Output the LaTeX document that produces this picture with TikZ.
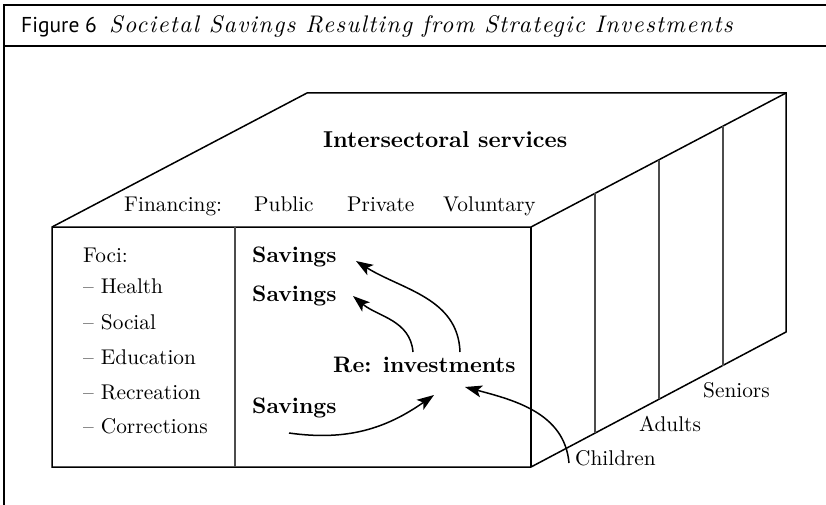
\documentclass[tikz,border=0pt]{standalone}
\usepackage{fontspec}
\setmainfont{lmroman10-regular.otf}[BoldFont=lmroman10-bold.otf, ItalicFont=lmroman10-italic.otf, BoldItalicFont=lmroman10-bolditalic.otf]
\newfontfamily\figsans{PT Sans}
\newfontfamily\titleit{lmroman10-italic.otf}[LetterSpace=5.6]
\usetikzlibrary{arrows.meta}
\tikzset{
  reg/.style={anchor=base west, inner sep=0pt, font=\fontsize{21.3}{25}\selectfont},
  bld/.style={anchor=base west, inner sep=0pt, font=\fontsize{22.4}{26}\selectfont\bfseries},
  frame/.style={line width=1.3pt, black},
  boxline/.style={line width=1.5pt, black},
  band/.style={line width=1.3pt, black!70},
  arr/.style={line width=1.5pt, -{Stealth[length=17pt, width=12pt, inset=4pt]}},
}
\begin{document}
\begin{tikzpicture}[x=1pt, y=-1pt]
\useasboundingbox (0,0) rectangle (826,505);
% outer frame
\draw[frame] (826,5) -- (4,5) -- (4,505);
\draw[frame] (4,46) -- (826,46);
% title
\node[anchor=base west, inner sep=0pt, font=\figsans\fontsize{21.5}{25}\selectfont] (fig) at (21,33) {Figure 6};
\node[anchor=base west, inner sep=0pt, font=\titleit\fontsize{24}{28}\selectfont] (title) at (109,33) {Societal Savings Resulting from Strategic Investments};
% solid
\draw[boxline] (52,227) -- (307,93) -- (786,93) -- (786,332) -- (531,467) -- (52,467) -- cycle;
\draw[boxline] (52,227) -- (531,227) -- (786,93);
\draw[boxline] (531,227) -- (531,467);
\draw[band] (235,227) -- (235,467);
\draw[band] (595,193.4) -- (595,433.2);
\draw[band] (659,159.7) -- (659,399.3);
\draw[band] (723,126.1) -- (723,365.6);
% top face texts
\node[bld, font=\fontsize{23}{26}\selectfont\bfseries] (inter) at (323,148) {Intersectoral\ services};
\node[reg] (fin) at (124,211) {Financing:};
\node[reg] (pub) at (254,211) {Public};
\node[reg] (pri) at (347,211) {Private};
\node[reg] (vol) at (443,211) {Voluntary};
% foci
\node[reg] (foci) at (83,262) {Foci:};
\node[reg] (health) at (83,293) {-- Health};
\node[reg] (social) at (83,329) {-- Social};
\node[reg] (edu) at (83,364) {-- Education};
\node[reg] (rec) at (83,399) {-- Recreation};
\node[reg] (cor) at (83,433) {-- Corrections};
% savings
\node[bld] (sav1) at (252,262) {Savings};
\node[bld] (sav2) at (252,301) {Savings};
\node[bld] (sav3) at (252,413) {Savings};
\node[bld] (reinv) at (333,372) {Re: investments};
% age groups
\node[reg] (child) at (575,465) {Children};
\node[reg] (adult) at (639,431) {Adults};
\node[reg] (senior) at (703,397) {Seniors};
% arrow endpoints
\coordinate (a1s) at (460,352);
\coordinate (a1e) at (356,261);
\coordinate (a2s) at (413,352);
\coordinate (a2e) at (353,296);
\coordinate (a3s) at (289,433);
\coordinate (a3e) at (434,395);
\coordinate (a4s) at (569,463);
\coordinate (a4e) at (465,387);
\draw[arr] (a1s) to[out=92, in=-32] (a1e);
\draw[arr] (a2s) to[out=95, in=-40] (a2e);
\draw[arr] (a3s) to[out=-8, in=-145] (a3e);
\draw[arr] (a4s) to[out=95, in=-15] (a4e);
\end{tikzpicture}
\end{document}
